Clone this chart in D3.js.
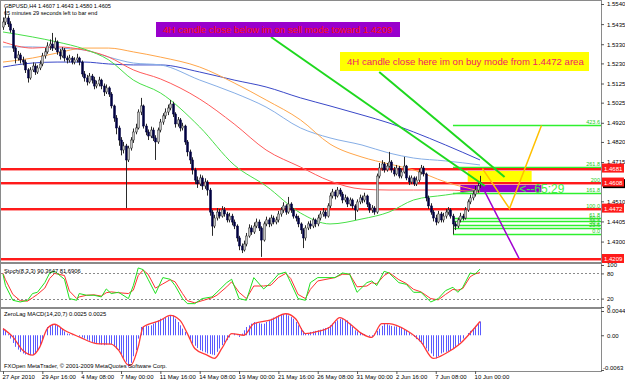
<!DOCTYPE html>
<html>
<head>
<meta charset="utf-8">
<script src="https://cdn.jsdelivr.net/npm/d3@7"></script>
<style>
  body { margin: 0; background: #fff; }
  svg { display: block; font-family: "Liberation Sans", Arial, sans-serif; }
</style>
</head>
<body>
<div id="chart"></div>
<script>
// GBPUSD H4, 27 Apr - 10 Jun 2010
var closes = [1.5446,1.5467,1.5436,1.5404,1.5310,1.5258,1.5274,1.5248,1.5237,1.5196,
  1.5154,1.5196,1.5216,1.5185,1.5206,1.5227,1.5269,1.5290,1.5321,1.5331,
  1.5310,1.5342,1.5290,1.5269,1.5300,1.5258,1.5248,1.5258,1.5237,1.5248,
  1.5258,1.5237,1.5175,1.5154,1.5133,1.5164,1.5143,1.5112,1.5123,1.5143,
  1.5112,1.5081,1.5102,1.5070,1.5008,1.4945,1.4893,1.4830,1.4778,1.4799,
  1.4726,1.4788,1.4830,1.4872,1.4893,1.4976,1.5008,1.4903,1.4872,1.4851,
  1.4882,1.4841,1.4820,1.4882,1.4924,1.4956,1.4976,1.4997,1.5018,1.4966,
  1.4914,1.4935,1.4893,1.4903,1.4820,1.4768,1.4726,1.4674,1.4621,1.4601,
  1.4632,1.4590,1.4611,1.4569,1.4454,1.4381,1.4423,1.4454,1.4433,1.4465,
  1.4444,1.4413,1.4433,1.4402,1.4381,1.4319,1.4277,1.4256,1.4287,1.4329,
  1.4371,1.4350,1.4381,1.4402,1.4371,1.4308,1.4392,1.4413,1.4392,1.4423,
  1.4402,1.4413,1.4444,1.4465,1.4486,1.4454,1.4496,1.4465,1.4433,1.4423,
  1.4392,1.4361,1.4319,1.4371,1.4392,1.4381,1.4413,1.4392,1.4423,1.4444,
  1.4454,1.4433,1.4486,1.4538,1.4559,1.4538,1.4569,1.4548,1.4517,1.4528,
  1.4496,1.4517,1.4486,1.4465,1.4507,1.4528,1.4517,1.4538,1.4496,1.4465,
  1.4475,1.4454,1.4642,1.4684,1.4705,1.4674,1.4694,1.4715,1.4674,1.4653,
  1.4684,1.4642,1.4663,1.4694,1.4632,1.4611,1.4632,1.4601,1.4621,1.4663,
  1.4684,1.4653,1.4528,1.4486,1.4454,1.4423,1.4402,1.4444,1.4413,1.4433,
  1.4454,1.4465,1.4433,1.4392,1.4381,1.4413,1.4433,1.4423,1.4465,1.4507,
  1.4528,1.4548,1.4569,1.4590,1.4605];
var highs = [1.5470,1.5519,1.5480,1.5450,1.5415,1.5320,1.5295,1.5285,1.5265,1.5250,
  1.5205,1.5210,1.5235,1.5230,1.5220,1.5245,1.5285,1.5310,1.5340,1.5355,
  1.5389,1.5365,1.5350,1.5305,1.5315,1.5310,1.5270,1.5275,1.5268,1.5262,
  1.5280,1.5265,1.5245,1.5190,1.5170,1.5180,1.5175,1.5160,1.5140,1.5160,
  1.5150,1.5125,1.5120,1.5110,1.5080,1.5015,1.4960,1.4905,1.4845,1.4820,
  1.4810,1.4800,1.4845,1.4890,1.4915,1.4990,1.5050,1.5015,1.4915,1.4885,
  1.4900,1.4895,1.4855,1.4895,1.4940,1.4970,1.4995,1.5015,1.5039,1.5030,
  1.4975,1.4950,1.4945,1.4920,1.4910,1.4830,1.4780,1.4740,1.4685,1.4640,
  1.4650,1.4645,1.4630,1.4620,1.4580,1.4465,1.4440,1.4475,1.4470,1.4485,
  1.4480,1.4455,1.4450,1.4445,1.4415,1.4390,1.4330,1.4290,1.4305,1.4345,
  1.4390,1.4385,1.4400,1.4420,1.4415,1.4380,1.4405,1.4430,1.4425,1.4440,
  1.4435,1.4430,1.4460,1.4480,1.4505,1.4495,1.4533,1.4505,1.4475,1.4445,
  1.4435,1.4400,1.4370,1.4385,1.4405,1.4410,1.4425,1.4420,1.4440,1.4460,
  1.4475,1.4465,1.4500,1.4555,1.4575,1.4570,1.4585,1.4580,1.4560,1.4545,
  1.4535,1.4530,1.4525,1.4495,1.4520,1.4545,1.4540,1.4555,1.4545,1.4505,
  1.4490,1.4485,1.4655,1.4710,1.4725,1.4715,1.4710,1.4768,1.4725,1.4690,
  1.4700,1.4695,1.4680,1.4742,1.4700,1.4645,1.4645,1.4640,1.4640,1.4680,
  1.4700,1.4695,1.4660,1.4540,1.4500,1.4465,1.4440,1.4460,1.4455,1.4450,
  1.4470,1.4480,1.4475,1.4445,1.4405,1.4425,1.4450,1.4445,1.4480,1.4520,
  1.4545,1.4565,1.4590,1.4610,1.4643];
var lows = [1.5405,1.5430,1.5420,1.5390,1.5290,1.5230,1.5245,1.5230,1.5220,1.5180,
  1.5130,1.5145,1.5185,1.5170,1.5175,1.5195,1.5215,1.5255,1.5280,1.5300,
  1.5295,1.5300,1.5275,1.5250,1.5260,1.5240,1.5230,1.5235,1.5225,1.5225,
  1.5235,1.5220,1.5160,1.5135,1.5115,1.5125,1.5125,1.5095,1.5100,1.5110,
  1.5095,1.5060,1.5070,1.5055,1.4995,1.4925,1.4860,1.4800,1.4750,1.4760,
  1.4475,1.4715,1.4775,1.4815,1.4860,1.4885,1.4960,1.4890,1.4855,1.4830,
  1.4840,1.4825,1.4726,1.4810,1.4870,1.4910,1.4940,1.4960,1.4985,1.4950,
  1.4895,1.4900,1.4875,1.4880,1.4805,1.4745,1.4705,1.4650,1.4600,1.4580,
  1.4590,1.4570,1.4575,1.4540,1.4435,1.4330,1.4370,1.4410,1.4420,1.4425,
  1.4430,1.4400,1.4400,1.4385,1.4365,1.4300,1.4255,1.4240,1.4248,1.4275,
  1.4320,1.4335,1.4340,1.4370,1.4355,1.4220,1.4300,1.4380,1.4375,1.4380,
  1.4390,1.4390,1.4400,1.4430,1.4450,1.4440,1.4445,1.4450,1.4420,1.4405,
  1.4375,1.4340,1.4266,1.4305,1.4360,1.4365,1.4370,1.4375,1.4380,1.4410,
  1.4430,1.4420,1.4425,1.4475,1.4525,1.4520,1.4530,1.4535,1.4500,1.4505,
  1.4480,1.4485,1.4470,1.4413,1.4455,1.4495,1.4500,1.4505,1.4480,1.4450,
  1.4450,1.4440,1.4445,1.4630,1.4670,1.4660,1.4665,1.4685,1.4660,1.4640,
  1.4645,1.4630,1.4630,1.4655,1.4620,1.4595,1.4600,1.4590,1.4590,1.4610,
  1.4650,1.4640,1.4510,1.4470,1.4440,1.4405,1.4385,1.4395,1.4400,1.4400,
  1.4420,1.4440,1.4420,1.4338,1.4360,1.4370,1.4400,1.4410,1.4415,1.4455,
  1.4495,1.4515,1.4535,1.4555,1.4580];
var firstOpen = 1.5420, lastOpen = 1.4607;

// moving averages, read at these bars
var maBars      = [0, 12, 22, 33, 43, 53, 64, 80, 94, 107, 121, 133, 146, 157, 167, 180, 194];
var maGreen     = [1.5394,1.5368,1.5342,1.5305,1.5248,1.5143,1.5076,1.4898,1.4700,1.4590,1.4449,1.4392,1.4418,1.4454,1.4517,1.4543,1.4569];
var maRed       = [1.5342,1.5310,1.5316,1.5300,1.5263,1.5196,1.5149,1.5044,1.4914,1.4778,1.4689,1.4616,1.4574,1.4569,1.4569,1.4569,1.4559];
var maOrange    = [1.5237,1.5258,1.5284,1.5310,1.5310,1.5290,1.5263,1.5211,1.5128,1.5039,1.4935,1.4809,1.4741,1.4705,1.4674,1.4611,1.4564];
var maLightBlue = [1.5316,1.5316,1.5310,1.5300,1.5263,1.5232,1.5222,1.5143,1.5076,1.5002,1.4893,1.4841,1.4804,1.4762,1.4736,1.4721,1.4700];
var maBlue      = [1.5211,1.5232,1.5237,1.5237,1.5227,1.5222,1.5222,1.5185,1.5143,1.5107,1.5050,1.5008,1.4961,1.4919,1.4872,1.4804,1.4726];

// 1.4610 sits under the 1.4608 level box, so it is left out
var priceTicks = [1.5540,1.5435,1.5330,1.5230,1.5125,1.5025,1.4920,1.4820,1.4715,1.4510,1.4405,1.4300];
var levels = [1.4681, 1.4608, 1.4472, 1.4209];
var bidPrice = 1.4605;

var fibLabels = ['0.0','23.6','38.2','50.0','61.8','100.0','161.8','200','261.8','423.6'];
var fibPrices = [1.4338,1.4370,1.4389,1.4405,1.4421,1.4472,1.4555,1.4606,1.4689,1.4906];
var fibStartBar = 183;

var timeBars = [0,16,32,48,64,80,96,112,128,144,160,176,192];
var timeLabels = ['27 Apr 2010','29 Apr 16:00','4 May 08:00','7 May 00:00','11 May 16:00','14 May 08:00',
  '19 May 00:00','21 May 16:00','26 May 08:00','31 May 00:00','2 Jun 16:00','7 Jun 08:00','10 Jun 00:00'];

// stochastic (8,3,3)
var stochBars = [0,1,4,7,10,12,14,17,19,21,25,27,30,31,34,37,40,42,44,47,51,53,55,57,59,62,65,68,70,73,
  75,78,81,85,87,91,93,96,99,102,106,109,112,115,117,120,123,125,128,135,138,141,144,148,150,152,155,157,161,164,
  167,170,174,177,180,183,185,187,190,192,194];
var stochK = [78,51,16,12,16,32,35,58,81,85,66,20,16,32,28,28,24,43,32,35,20,51,93,89,66,32,70,66,51,20,
  8,8,20,24,35,58,66,20,16,70,43,58,78,83,58,20,16,58,70,70,81,78,35,58,62,51,85,81,58,54,
  35,35,12,20,39,47,35,47,81,78,90.36];
var stochD = [80,65,30,15,14,22,30,45,68,80,75,38,20,24,28,29,26,34,36,34,32,40,75,88,78,45,55,65,60,32,
  15,10,15,22,28,48,60,35,20,50,50,52,70,80,68,30,20,42,62,70,78,78,48,50,58,55,75,82,65,56,
  42,36,20,17,30,42,40,44,72,79,81.69];
var stochTicks = [100, 80, 20, 0];

// ZeroLag MACD(14,20,7)
var macdHist = [0.0012,0.0010,0.0002,-0.0006,-0.0014,-0.0021,-0.0026,-0.0030,-0.0033,-0.0035,
  -0.0036,-0.0036,-0.0036,-0.0032,-0.0027,-0.0018,-0.0008,0.0000,0.0015,0.0017,
  0.0019,0.0020,0.0018,0.0015,0.0011,0.0007,0.0003,0.0002,0.0001,0.0000,
  0.0000,-0.0002,-0.0004,-0.0006,-0.0008,-0.0010,-0.0012,-0.0014,-0.0015,-0.0016,
  -0.0017,-0.0018,-0.0017,-0.0016,-0.0016,-0.0020,-0.0024,-0.0027,-0.0034,-0.0041,
  -0.0048,-0.0057,-0.0050,-0.0038,-0.0027,-0.0006,0.0015,0.0016,0.0017,0.0017,
  0.0018,0.0021,0.0024,0.0027,0.0030,0.0031,0.0033,0.0034,0.0035,0.0036,
  0.0030,0.0024,0.0018,0.0012,0.0006,0.0000,-0.0008,-0.0015,-0.0019,-0.0023,
  -0.0027,-0.0029,-0.0031,-0.0033,-0.0034,-0.0035,-0.0036,-0.0030,-0.0024,-0.0018,
  -0.0013,-0.0009,-0.0004,0.0000,0.0003,0.0001,-0.0003,0.0003,0.0009,0.0015,
  0.0018,0.0021,0.0024,0.0023,0.0022,0.0021,0.0021,0.0024,0.0027,0.0030,
  0.0032,0.0034,0.0036,0.0037,0.0038,0.0039,0.0036,0.0033,0.0030,0.0024,
  0.0018,0.0013,0.0008,0.0003,0.0004,0.0006,0.0007,0.0008,0.0009,0.0010,
  0.0012,0.0013,0.0015,0.0018,0.0021,0.0024,0.0027,0.0030,0.0029,0.0028,
  0.0027,0.0021,0.0015,0.0009,0.0007,0.0005,0.0003,0.0002,0.0000,-0.0002,
  -0.0003,0.0003,0.0008,0.0012,0.0017,0.0021,0.0020,0.0018,0.0017,0.0016,
  0.0016,0.0015,0.0013,0.0011,0.0009,0.0005,0.0001,-0.0003,-0.0007,-0.0011,
  -0.0015,-0.0020,-0.0024,-0.0029,-0.0033,-0.0038,-0.0042,-0.0038,-0.0033,-0.0031,
  -0.0030,-0.0029,-0.0027,-0.0024,-0.0021,-0.0018,-0.0012,-0.0006,0.0000,0.0004,
  0.0008,0.0012,0.0017,0.0021,0.0025];
var sigBars = [0,4,8,12,15,18,21,25,31,38,44,47,51,52,55,57,64,68,72,75,78,83,86,89,93,98,102,109,115,119,
  123,128,133,137,141,146,150,154,157,164,170,175,180,186,191,194];
var macdSignal = [0.0012,-0.0003,-0.0027,-0.0036,-0.0021,0.0012,0.0020,0.0009,-0.0003,-0.0015,-0.0016,-0.0027,-0.0054,-0.0054,-0.0021,0.0015,0.0027,0.0036,0.0027,0.0003,
  -0.0024,-0.0036,-0.0042,-0.0024,0.0003,0.0000,0.0021,0.0028,0.0039,0.0030,
  0.0003,0.0007,0.0015,0.0032,0.0021,0.0003,-0.0004,0.0021,0.0021,0.0009,-0.0012,-0.0042,-0.0033,-0.0015,0.0009,0.0025];
var macdTicks = [0.0044, 0, -0.0063];
var macdTickLabels = ['0.0044', '0.00', '-0.0063'];

// objects drawn on the chart: [bar, price] points
var trendA = [[109, 1.5368], [196, 1.4590]];
var trendB = [[153, 1.5185], [204, 1.4637]];
var zigzag = [[195, 1.4681], [206, 1.4472], [219, 1.4906]];
var sellLine = [[196, 1.4559], [210, 1.4209]];
var buyZone = { from: 189, to: 215, top: 1.4681, bottom: 1.4612 };
var sellZone = { from: 186, to: 219, top: 1.4606, bottom: 1.4558 };
var timerBar = 210, timerPrice = 1.4553;

var W = 625, H = 382;
var L = 1, R = 601;
var small = 6;

var svg = d3.select('#chart').append('svg')
  .attr('width', W)
  .attr('height', H);

var x = d3.scaleLinear().domain([0, 194]).range([3, 480]);
var y = d3.scaleLinear().domain([1.4209, 1.5540]).range([259, 4]);
var yS = d3.scaleLinear().domain([0, 100]).range([307, 265]);
var yM = d3.scaleLinear().domain([-0.0063, 0.0044]).range([370, 311]);

var bars = closes.map(function (c, i) {
  var o = i === 0 ? firstOpen : (i === closes.length - 1 ? lastOpen : closes[i - 1]);
  return { i: i, o: o, h: highs[i], l: lows[i], c: c };
});

svg.append('defs').append('clipPath').attr('id', 'mainClip')
  .append('rect').attr('x', L).attr('y', 1).attr('width', R - L).attr('height', 261);

// panel frames
[[1, 262], [264, 307], [309, 371]].forEach(function (p) {
  svg.append('rect')
    .attr('x', L - 0.5).attr('y', p[0] - 0.5)
    .attr('width', R - L + 1).attr('height', p[1] - p[0] + 1)
    .attr('fill', 'none').attr('stroke', '#8a8a8a').attr('stroke-width', 1);
});

var main = svg.append('g').attr('clip-path', 'url(#mainClip)');

// zones behind the bars
main.selectAll('.zone')
  .data([[buyZone, '#ffff00'], [sellZone, '#9900cc']])
  .enter().append('rect')
  .attr('x', function (d) { return x(d[0].from); })
  .attr('y', function (d) { return y(d[0].top); })
  .attr('width', function (d) { return x(d[0].to) - x(d[0].from); })
  .attr('height', function (d) { return y(d[0].bottom) - y(d[0].top); })
  .attr('fill', function (d) { return d[1]; });

// fibonacci levels
main.selectAll('.fib')
  .data(fibPrices)
  .enter().append('line')
  .attr('x1', x(fibStartBar)).attr('x2', R)
  .attr('y1', function (d) { return Math.round(y(d)) + 0.5; })
  .attr('y2', function (d) { return Math.round(y(d)) + 0.5; })
  .attr('stroke', '#2ef02e').attr('stroke-width', 1.6);

// horizontal levels
levels.forEach(function (p) {
  var yy = Math.round(y(p));
  main.append('line').attr('x1', L).attr('x2', R).attr('y1', yy + 1.5).attr('y2', yy + 1.5)
    .attr('stroke', '#ff9c9c').attr('stroke-width', 1);
  main.append('line').attr('x1', L).attr('x2', R).attr('y1', yy).attr('y2', yy)
    .attr('stroke', '#ff1a1a').attr('stroke-width', 2);
});

// moving averages
var maLine = d3.line()
  .x(function (d) { return x(d[0]); })
  .y(function (d) { return y(d[1]); })
  .curve(d3.curveMonotoneX);

[[maBlue, '#3a48c8'], [maLightBlue, '#86aee6'], [maOrange, '#ffa64a'], [maRed, '#ff5a5a'], [maGreen, '#48e048']]
  .forEach(function (m) {
    main.append('path')
      .datum(maBars.map(function (b, k) { return [b, m[0][k]]; }))
      .attr('d', maLine)
      .attr('fill', 'none')
      .attr('stroke', m[1])
      .attr('stroke-width', 1);
  });

// candles
var cg = main.selectAll('.bar')
  .data(bars)
  .enter().append('g')
  .attr('class', 'bar');

cg.append('line')
  .attr('x1', function (d) { return Math.round(x(d.i)) + 0.5; })
  .attr('x2', function (d) { return Math.round(x(d.i)) + 0.5; })
  .attr('y1', function (d) { return y(d.h); })
  .attr('y2', function (d) { return y(d.l); })
  .attr('stroke', '#2a2a2a')
  .attr('stroke-width', 1);

cg.append('rect')
  .attr('x', function (d) { return Math.round(x(d.i)) - 0.5; })
  .attr('width', 2)
  .attr('y', function (d) { return y(Math.max(d.o, d.c)); })
  .attr('height', function (d) { return Math.max(1, Math.abs(y(d.o) - y(d.c))); })
  .attr('fill', function (d) { return d.c >= d.o ? '#c4c4c4' : '#000040'; })
  .attr('stroke', function (d) { return d.c >= d.o ? '#333' : '#000040'; })
  .attr('stroke-width', 0.5);

// drawn lines
var objLine = d3.line()
  .x(function (d) { return x(d[0]); })
  .y(function (d) { return y(d[1]); });

[[trendA, '#1ed81e', 2], [trendB, '#1ed81e', 2], [zigzag, '#ffc000', 1.5], [sellLine, '#a000d0', 1.5]]
  .forEach(function (t) {
    main.append('path')
      .datum(t[0])
      .attr('d', objLine)
      .attr('fill', 'none')
      .attr('stroke', t[1])
      .attr('stroke-width', t[2]);
  });

// fib labels
main.selectAll('.fibText')
  .data(fibPrices)
  .enter().append('text')
  .attr('x', R - 1)
  .attr('y', function (d) { return y(d) - 1; })
  .attr('text-anchor', 'end')
  .attr('font-size', 5.5)
  .attr('fill', '#22cc22')
  .text(function (d, i) { return fibLabels[i]; });

main.append('text')
  .attr('x', x(timerBar)).attr('y', y(timerPrice))
  .attr('font-size', 12)
  .attr('fill', '#44ee44')
  .text('<--65:29');

// text labels
svg.append('rect').attr('x', 156).attr('y', 22).attr('width', 244).attr('height', 15).attr('fill', '#9900cc');
svg.append('text').attr('x', 163).attr('y', 33).attr('font-size', 9.6).attr('fill', '#ff1010')
  .text('4H candle close below im on sell mode toward 1.4209');
svg.append('rect').attr('x', 340).attr('y', 52).attr('width', 249).attr('height', 19).attr('fill', '#ffff00');
svg.append('text').attr('x', 347).attr('y', 65).attr('font-size', 9.6).attr('fill', '#f0206a')
  .text('4H candle close here im on buy mode from 1.4472 area');

svg.append('text').attr('x', 4).attr('y', 7.5).attr('font-size', 5.6).attr('fill', '#000')
  .text('GBPUSD,H4  1.4607 1.4643 1.4580 1.4605');
svg.append('text').attr('x', 4).attr('y', 15).attr('font-size', 5.6).attr('fill', '#000')
  .text('65 minutes 29 seconds left to bar end');

// price axis
var pAxis = svg.append('g')
  .attr('transform', 'translate(' + R + ',0)')
  .call(d3.axisRight(y).tickValues(priceTicks).tickSize(3).tickFormat(d3.format('.4f')));
pAxis.select('.domain').remove();

levels.forEach(function (p, k) {
  var yy = y(p);
  if (k === 1) {
    svg.append('rect').attr('x', R + 2).attr('y', y(bidPrice) - 4).attr('width', 22).attr('height', 9).attr('fill', '#000');
  }
  svg.append('rect').attr('x', R + 1).attr('y', yy - 5).attr('width', 22).attr('height', 9).attr('fill', '#ff1a1a');
  svg.append('text').attr('x', R + 3).attr('y', yy + 2).attr('font-size', small).attr('fill', '#fff')
    .text(d3.format('.4f')(p));
});

// stochastic panel
svg.selectAll('.sLevel')
  .data([80, 20])
  .enter().append('line')
  .attr('x1', L).attr('x2', R)
  .attr('y1', function (d) { return Math.round(yS(d)) + 0.5; })
  .attr('y2', function (d) { return Math.round(yS(d)) + 0.5; })
  .attr('stroke', '#8a8a8a').attr('stroke-dasharray', '2,2');

var sLine = d3.line()
  .x(function (d) { return x(d[0]); })
  .y(function (d) { return yS(d[1]); });

svg.append('path')
  .datum(stochBars.map(function (b, k) { return [b, stochD[k]]; }))
  .attr('d', sLine).attr('fill', 'none').attr('stroke', '#ff3030').attr('stroke-width', 1);
svg.append('path')
  .datum(stochBars.map(function (b, k) { return [b, stochK[k]]; }))
  .attr('d', sLine).attr('fill', 'none').attr('stroke', '#20e020').attr('stroke-width', 1);

var sAxis = svg.append('g')
  .attr('transform', 'translate(' + R + ',0)')
  .call(d3.axisRight(yS).tickValues(stochTicks).tickSize(3));
sAxis.select('.domain').remove();

svg.append('text').attr('x', 4).attr('y', 273).attr('font-size', 5.8).attr('fill', '#000')
  .text('Stoch(8,3,3) 90.3647 81.6906');

// macd panel
svg.selectAll('.hist')
  .data(macdHist)
  .enter().append('line')
  .attr('x1', function (d, i) { return Math.round(x(i)) + 0.5; })
  .attr('x2', function (d, i) { return Math.round(x(i)) + 0.5; })
  .attr('y1', yM(0))
  .attr('y2', function (d) { return yM(d); })
  .attr('stroke', '#5a5aff')
  .attr('stroke-width', 1);

svg.append('path')
  .datum(sigBars.map(function (b, k) { return [b, macdSignal[k]]; }))
  .attr('d', d3.line()
    .x(function (d) { return x(d[0]); })
    .y(function (d) { return yM(d[1]); })
    .curve(d3.curveMonotoneX))
  .attr('fill', 'none').attr('stroke', '#ff3838').attr('stroke-width', 1.3);

var mAxis = svg.append('g')
  .attr('transform', 'translate(' + R + ',0)')
  .call(d3.axisRight(yM).tickValues(macdTicks).tickSize(3)
    .tickFormat(function (d, i) { return macdTickLabels[i]; }));
mAxis.select('.domain').remove();

svg.append('text').attr('x', 4).attr('y', 316).attr('font-size', 5.8).attr('fill', '#000')
  .text('ZeroLag MACD(14,20,7) 0.0025 0.0025');
svg.append('text').attr('x', 4).attr('y', 368).attr('font-size', 5.8).attr('fill', '#000')
  .text('FXOpen MetaTrader, \u00a9 2001-2009 MetaQuotes Software Corp.');

// time axis
var tAxis = svg.append('g')
  .attr('transform', 'translate(0,371)')
  .call(d3.axisBottom(x).tickValues(timeBars).tickSize(3)
    .tickFormat(function (d, i) { return timeLabels[i]; }));
tAxis.select('.domain').remove();
tAxis.selectAll('text').attr('text-anchor', 'start').attr('x', -1).attr('y', 4);

svg.selectAll('.tick text').attr('font-size', small).attr('font-family', '"Liberation Sans", Arial, sans-serif').attr('fill', '#000');
svg.selectAll('.tick line').attr('stroke', '#555');
// keep the lowest macd label inside the window
mAxis.selectAll('.tick text').filter(function (d) { return d < 0; }).attr('x', 2).attr('dy', '-0.1em');
</script>
</body>
</html>
